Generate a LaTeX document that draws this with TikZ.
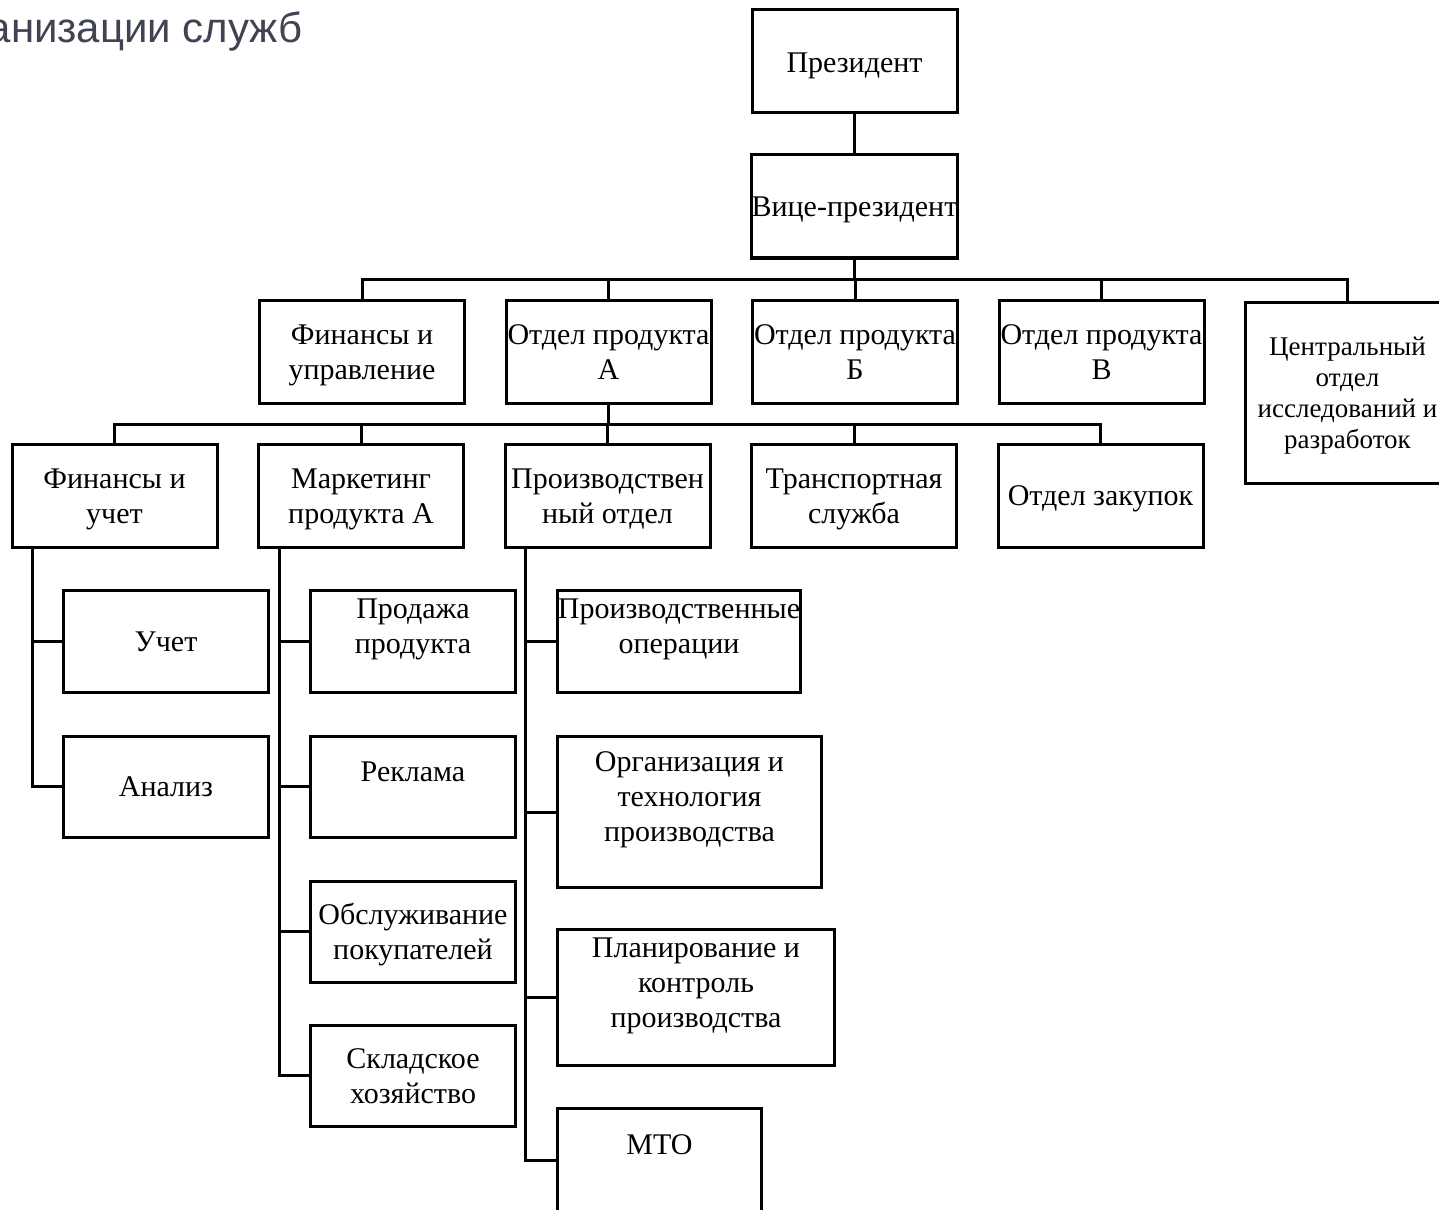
\documentclass[tikz,border=0pt]{standalone}
\usepackage{fontspec}
\setmainfont{Liberation Serif}
\newfontfamily\titlefont{Liberation Sans}
\usepackage{xcolor}
\usepackage{tikz}
\usetikzlibrary{positioning,calc}
\definecolor{titlegray}{RGB}{64,67,82}
% height of the first line of a box (moves its text up or down)
\newcommand{\firstline}[1][14pt]{\rule{0pt}{#1}}
\newcommand{\boxdepth}{4pt}

\begin{document}
\begin{tikzpicture}[
  x=0.5pt, y=-0.5pt,
  node distance = 19.5pt and 19.25pt,
  box/.style  = {draw, line width=1.5pt, align=center, inner sep=0pt,
                 minimum width=102.5pt, minimum height=51.5pt,
                 font=\fontsize{15}{17.5}\selectfont,
                 execute at end node={\rule[-\boxdepth]{0pt}{0pt}}},
  flat/.style = {execute at begin node={\def\boxdepth{0pt}}},
  link/.style = {line width=1.5pt},
  ttl/.style  = {font=\titlefont\fontsize{21}{24}\selectfont, text=titlegray,
                 anchor=base east, inner sep=0pt},
]
\path[use as bounding box, clip] (0,0) rectangle (1439,1209);

%% ── TITLE (cut at the left edge) ────────────────────────────────────────
\node[ttl] (title) at (303,43) {анизации служб};

%% ── TOP ─────────────────────────────────────────────────────────────────
\node[box] (pres) at (854.5,61.5) {\firstline[15pt]Президент};
\node[box, below=of pres] (vice) {\firstline Вице-президент};

%% ── SECOND ROW ──────────────────────────────────────────────────────────
\node[box] (fin) at (362,351.5) {\firstline Финансы и\\управление};
\node[box, right=of fin]   (prodA) {\firstline Отдел продукта\\А};
\node[box, right=of prodA] (prodB) {\firstline Отдел продукта\\Б};
\node[box, right=of prodB] (prodC) {\firstline Отдел продукта\\В};
\node[box, minimum height=90.5pt, font=\fontsize{13.5}{15.5}\selectfont]
  (rnd) at (1347.5,392.5) {\firstline[13.5pt]Центральный\\отдел\\исследований и\\разработок};

%% ── THIRD ROW ───────────────────────────────────────────────────────────
\node[box] (finacc) at (114.5,495.5) {\firstline Финансы и\\учет};
\node[box, right=of finacc] (mktA)   {\firstline Маркетинг\\продукта А};
\node[box, right=of mktA]   (manuf)  {\firstline Производствен\\ный отдел};
\node[box, right=of manuf]  (transp) {\firstline Транспортная\\служба};
\node[box, right=of transp] (purch)  {\firstline Отдел закупок};

%% ── FINANCE COLUMN ──────────────────────────────────────────────────────
\node[box, minimum height=51pt] (acc) at (166,641) {\firstline Учет};
\node[box, minimum height=50.5pt, below=20.5pt of acc] (anal) {\firstline Анализ};

%% ── MARKETING COLUMN ────────────────────────────────────────────────────
\node[box, flat, minimum height=51pt] (sales) at (413,641) {\firstline[12pt]Продажа\\продукта\\\mbox{}};
\node[box, flat, minimum height=50.5pt, below=20.5pt of sales] (adv) {\firstline[12pt]Реклама\\\mbox{}};
\node[box, minimum height=50.5pt, below=20.5pt of adv]   (cust)  {\firstline Обслуживание\\покупателей};
\node[box, minimum height=50.5pt, below=20pt of cust]    (store) {\firstline Складское\\хозяйство};

%% ── PRODUCTION COLUMN ───────────────────────────────────────────────────
\node[box, flat, anchor=north west, minimum width=121.5pt, minimum height=51pt]
  (ops) at (556,589) {\firstline[12pt]Производственные\\операции\\\mbox{}};
\node[box, flat, anchor=north west, minimum width=132pt, minimum height=75.5pt]
  (orgtech) at (556,735) {\firstline[12pt]Организация и\\технология\\производства\\\mbox{}};
\node[box, flat, anchor=north west, minimum width=138.5pt, minimum height=68pt]
  (plan) at (556,928) {\firstline[12pt]Планирование и\\контроль\\производства\\\mbox{}};
\node[box, flat, anchor=north west, minimum width=102pt, minimum height=51.5pt]
  (mto) at (556,1107) {\firstline[12pt]МТО\\\mbox{}};

%% ── TOP LINKS ───────────────────────────────────────────────────────────
\draw[link] (pres) -- (vice);
\coordinate (busB) at ($(vice.south)+(0,20)$);
\draw[link] (vice.south) -- (busB);
\draw[link] (busB) -| (fin.north);
\draw[link] (busB) -| (prodA.north);
\draw[link] (busB) -| (prodB.north);
\draw[link] (busB) -| (prodC.north);
\draw[link] (busB) -| (rnd.north);

%% product A feeds the third row
\coordinate (busC) at ($(prodA.south)+(0,20)$);
\draw[link] (prodA.south) -- (busC);
\draw[link] (busC) -| (finacc.north);
\draw[link] (busC) -| (mktA.north);
\draw[link] (busC) -| (manuf.north);
\draw[link] (busC) -| (transp.north);
\draw[link] (busC) -| (purch.north);

%% ── COLUMN STEMS ────────────────────────────────────────────────────────
\coordinate (stemF) at ($(finacc.south west)+(22,0)$);
\draw[link] (stemF) |- (acc.west);
\draw[link] (stemF) |- (anal.west);

\coordinate (stemM) at ($(mktA.south west)+(22,0)$);
\draw[link] (stemM) |- (sales.west);
\draw[link] (stemM) |- (adv.west);
\draw[link] (stemM) |- (cust.west);
\draw[link] (stemM) |- (store.west);

\coordinate (stemP) at ($(manuf.south west)+(22,0)$);
\draw[link] (stemP) |- (ops.west);
\draw[link] (stemP) |- (orgtech.west);
\draw[link] (stemP) |- (plan.west);
\draw[link] (stemP) |- (mto.west);

\end{tikzpicture}
\end{document}
